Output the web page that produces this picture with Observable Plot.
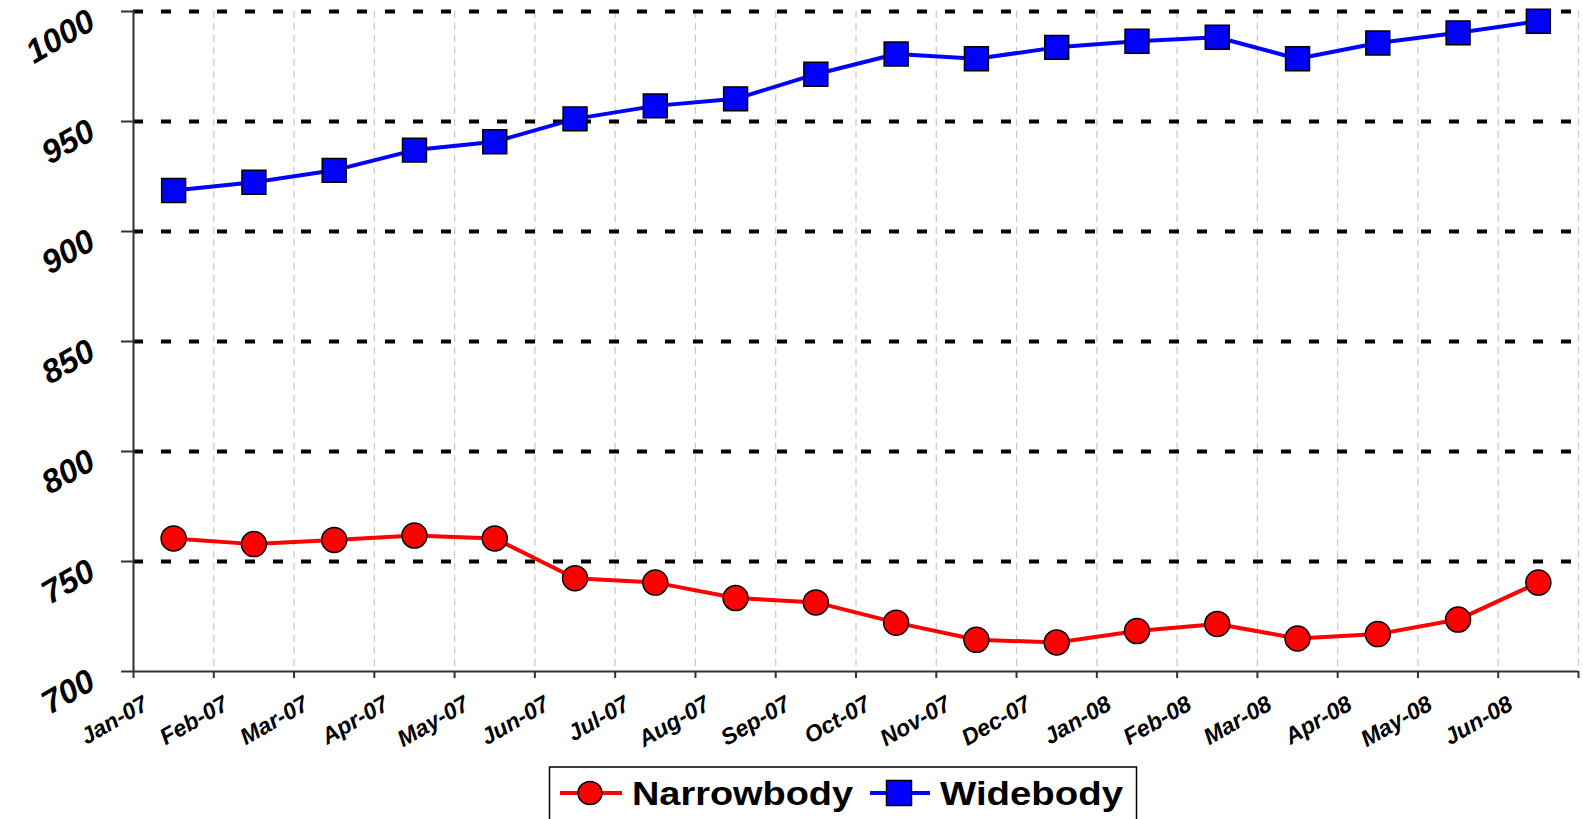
<!DOCTYPE html>
<html>
<head>
<meta charset="utf-8">
<script src="https://cdn.jsdelivr.net/npm/d3@7"></script>
<script src="https://cdn.jsdelivr.net/npm/@observablehq/plot@0.6"></script>
<style>
  html, body { margin: 0; padding: 0; background: #fff; }
  #wrap { position: relative; width: 1583px; height: 819px; overflow: hidden; font-family: "Liberation Sans", Arial, sans-serif; }
  #legend { position: absolute; left: 0; top: 755px; }
</style>
</head>
<body>
<div id="wrap">
  <div id="chart"></div>
  <svg id="legend" width="1583" height="64"></svg>
</div>
<script>
const months = ["Jan-07","Feb-07","Mar-07","Apr-07","May-07","Jun-07","Jul-07","Aug-07","Sep-07","Oct-07","Nov-07","Dec-07","Jan-08","Feb-08","Mar-08","Apr-08","May-08","Jun-08"];
const narrowbody = [760.5, 757.9, 759.8, 761.8, 760.5, 742.4, 740.4, 733.4, 731.4, 722.2, 714.4, 713.2, 718.4, 721.6, 715.0, 717.0, 723.6, 740.4];
const widebody = [918.6, 922.4, 927.8, 937.0, 940.8, 951.2, 957.1, 960.3, 971.5, 980.7, 978.5, 983.7, 986.5, 988.3, 978.5, 985.7, 990.3, 995.6];
const yTicks = [700, 750, 800, 850, 900, 950, 1000];
const gridY = [750, 800, 850, 900, 950, 1000];
const series = [
  {name: "Narrowbody", values: narrowbody, color: "#ff0000", symbol: "circle"},
  {name: "Widebody", values: widebody, color: "#0000ff", symbol: "square"}
];
const boundaries = d3.range(months.length + 1);
const font = '"Liberation Sans", Arial, sans-serif';

const chart = Plot.plot({
  width: 1583,
  height: 755,
  marginTop: 11,
  marginBottom: 84,
  marginLeft: 133,
  marginRight: 5,
  style: {fontFamily: font, background: "#fff"},
  x: {type: "linear", domain: [0, months.length], axis: null},
  y: {domain: [700, 1000], axis: null},
  marks: [
    Plot.ruleX(boundaries, {stroke: "#c8c8c8", strokeWidth: 1.2, strokeDasharray: "7,5"}),
    Plot.ruleY(gridY, {stroke: "#000", strokeWidth: 4, strokeDasharray: "10,18"}),
    Plot.axisY({ticks: yTicks, tickSize: 12, tickFormat: () => "", stroke: "#333", strokeWidth: 2}),
    Plot.axisX({ticks: boundaries, tickSize: 7, tickFormat: () => "", stroke: "#333", strokeWidth: 2}),
    Plot.ruleX([0], {stroke: "#333", strokeWidth: 2}),
    Plot.ruleY([700], {stroke: "#333", strokeWidth: 2}),
    Plot.text(yTicks, {y: d => d, text: d => String(d), frameAnchor: "left", textAnchor: "end", lineAnchor: "bottom",
      rotate: -30, dx: -36, dy: 16, fontSize: 33, fontWeight: "bold", fontStyle: "italic", fill: "#000"}),
    Plot.text(months, {x: (d, i) => i, text: d => d, frameAnchor: "bottom", textAnchor: "end", lineAnchor: "bottom",
      rotate: -30, dx: 16, dy: 37, fontSize: 23, fontWeight: "bold", fontStyle: "italic", fill: "#000"}),
    ...series.map(s => Plot.lineY(s.values, {x: (d, i) => i + 0.5, y: d => d, stroke: s.color, strokeWidth: 4})),
    ...series.map(s => Plot.dot(s.values, {x: (d, i) => i + 0.5, y: d => d, fill: s.color, stroke: "#000", strokeWidth: 1.5,
      symbol: s.symbol, r: s.symbol === "square" ? 13.5 : 12.5}))
  ]
});
document.getElementById("chart").appendChild(chart);

// Legend
const lg = d3.select("#legend");
lg.append("rect").attr("x", 549.5).attr("y", 12).attr("width", 587).attr("height", 70)
  .attr("fill", "#fff").attr("stroke", "#000").attr("stroke-width", 1.5);
const items = [
  {s: series[0], lx1: 560, lx2: 622, cx: 590, tx: 632, tl: 221},
  {s: series[1], lx1: 870, lx2: 930, cx: 899, tx: 940, tl: 183}
];
for (const it of items) {
  lg.append("line").attr("x1", it.lx1).attr("x2", it.lx2).attr("y1", 38).attr("y2", 38)
    .attr("stroke", it.s.color).attr("stroke-width", 4);
  if (it.s.symbol === "circle") {
    lg.append("ellipse").attr("cx", it.cx).attr("cy", 38).attr("rx", 12).attr("ry", 11.5)
      .attr("fill", it.s.color).attr("stroke", "#000").attr("stroke-width", 1.5);
  } else {
    lg.append("rect").attr("x", it.cx - 12.5).attr("y", 25.5).attr("width", 25).attr("height", 25)
      .attr("fill", it.s.color).attr("stroke", "#000").attr("stroke-width", 1.5);
  }
  lg.append("text").attr("x", it.tx).attr("y", 50).text(it.s.name)
    .attr("font-family", font).attr("font-weight", "bold").attr("font-size", 34)
    .attr("textLength", it.tl).attr("lengthAdjust", "spacingAndGlyphs").attr("fill", "#000");
}
</script>
</body>
</html>
